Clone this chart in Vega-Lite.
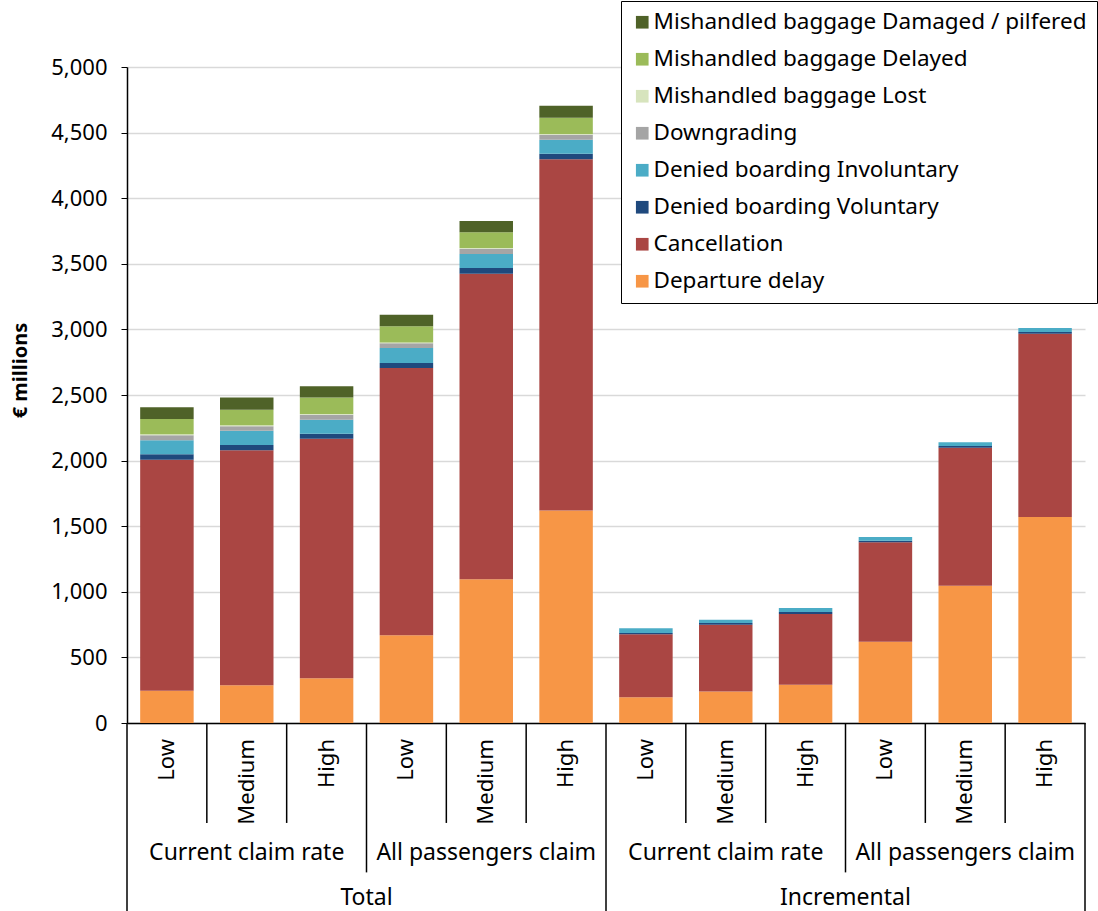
{
  "$schema": "https://vega.github.io/schema/vega-lite/v6.json",
  "padding": {"left": 10, "top": 0, "right": 0, "bottom": 0},
  "background": "white",
  "bounds": "flush",
  "spacing": 0,
  "config": {
    "font": "Noto Sans",
    "view": {"stroke": null},
    "concat": {"spacing": 0}
  },
  "datasets": {
    "bars": [
      {"bar": "T-CCR-Low", "type": "Departure delay", "value": 245},
      {"bar": "T-CCR-Low", "type": "Cancellation", "value": 1762},
      {"bar": "T-CCR-Low", "type": "Denied boarding Voluntary", "value": 41},
      {"bar": "T-CCR-Low", "type": "Denied boarding Involuntary", "value": 107},
      {"bar": "T-CCR-Low", "type": "Downgrading", "value": 38},
      {"bar": "T-CCR-Low", "type": "Mishandled baggage Lost", "value": 8},
      {"bar": "T-CCR-Low", "type": "Mishandled baggage Delayed", "value": 117},
      {"bar": "T-CCR-Low", "type": "Mishandled baggage Damaged / pilfered", "value": 89},
      {"bar": "T-CCR-Medium", "type": "Departure delay", "value": 288},
      {"bar": "T-CCR-Medium", "type": "Cancellation", "value": 1790},
      {"bar": "T-CCR-Medium", "type": "Denied boarding Voluntary", "value": 41},
      {"bar": "T-CCR-Medium", "type": "Denied boarding Involuntary", "value": 109},
      {"bar": "T-CCR-Medium", "type": "Downgrading", "value": 33},
      {"bar": "T-CCR-Medium", "type": "Mishandled baggage Lost", "value": 8},
      {"bar": "T-CCR-Medium", "type": "Mishandled baggage Delayed", "value": 119},
      {"bar": "T-CCR-Medium", "type": "Mishandled baggage Damaged / pilfered", "value": 92},
      {"bar": "T-CCR-High", "type": "Departure delay", "value": 342},
      {"bar": "T-CCR-High", "type": "Cancellation", "value": 1825},
      {"bar": "T-CCR-High", "type": "Denied boarding Voluntary", "value": 38},
      {"bar": "T-CCR-High", "type": "Denied boarding Involuntary", "value": 107},
      {"bar": "T-CCR-High", "type": "Downgrading", "value": 38},
      {"bar": "T-CCR-High", "type": "Mishandled baggage Lost", "value": 5},
      {"bar": "T-CCR-High", "type": "Mishandled baggage Delayed", "value": 125},
      {"bar": "T-CCR-High", "type": "Mishandled baggage Damaged / pilfered", "value": 86},
      {"bar": "T-APC-Low", "type": "Departure delay", "value": 668},
      {"bar": "T-APC-Low", "type": "Cancellation", "value": 2038},
      {"bar": "T-APC-Low", "type": "Denied boarding Voluntary", "value": 38},
      {"bar": "T-APC-Low", "type": "Denied boarding Involuntary", "value": 114},
      {"bar": "T-APC-Low", "type": "Downgrading", "value": 36},
      {"bar": "T-APC-Low", "type": "Mishandled baggage Lost", "value": 7},
      {"bar": "T-APC-Low", "type": "Mishandled baggage Delayed", "value": 123},
      {"bar": "T-APC-Low", "type": "Mishandled baggage Damaged / pilfered", "value": 88},
      {"bar": "T-APC-Medium", "type": "Departure delay", "value": 1096},
      {"bar": "T-APC-Medium", "type": "Cancellation", "value": 2329},
      {"bar": "T-APC-Medium", "type": "Denied boarding Voluntary", "value": 43},
      {"bar": "T-APC-Medium", "type": "Denied boarding Involuntary", "value": 107},
      {"bar": "T-APC-Medium", "type": "Downgrading", "value": 40},
      {"bar": "T-APC-Medium", "type": "Mishandled baggage Lost", "value": 5},
      {"bar": "T-APC-Medium", "type": "Mishandled baggage Delayed", "value": 120},
      {"bar": "T-APC-Medium", "type": "Mishandled baggage Damaged / pilfered", "value": 86},
      {"bar": "T-APC-High", "type": "Departure delay", "value": 1620},
      {"bar": "T-APC-High", "type": "Cancellation", "value": 2676},
      {"bar": "T-APC-High", "type": "Denied boarding Voluntary", "value": 43},
      {"bar": "T-APC-High", "type": "Denied boarding Involuntary", "value": 107},
      {"bar": "T-APC-High", "type": "Downgrading", "value": 38},
      {"bar": "T-APC-High", "type": "Mishandled baggage Lost", "value": 5},
      {"bar": "T-APC-High", "type": "Mishandled baggage Delayed", "value": 125},
      {"bar": "T-APC-High", "type": "Mishandled baggage Damaged / pilfered", "value": 91},
      {"bar": "I-CCR-Low", "type": "Departure delay", "value": 196},
      {"bar": "I-CCR-Low", "type": "Cancellation", "value": 480},
      {"bar": "I-CCR-Low", "type": "Denied boarding Voluntary", "value": 10},
      {"bar": "I-CCR-Low", "type": "Denied boarding Involuntary", "value": 36},
      {"bar": "I-CCR-Medium", "type": "Departure delay", "value": 241},
      {"bar": "I-CCR-Medium", "type": "Cancellation", "value": 508},
      {"bar": "I-CCR-Medium", "type": "Denied boarding Voluntary", "value": 13},
      {"bar": "I-CCR-Medium", "type": "Denied boarding Involuntary", "value": 25},
      {"bar": "I-CCR-High", "type": "Departure delay", "value": 292},
      {"bar": "I-CCR-High", "type": "Cancellation", "value": 539},
      {"bar": "I-CCR-High", "type": "Denied boarding Voluntary", "value": 15},
      {"bar": "I-CCR-High", "type": "Denied boarding Involuntary", "value": 30},
      {"bar": "I-APC-Low", "type": "Departure delay", "value": 620},
      {"bar": "I-APC-Low", "type": "Cancellation", "value": 757},
      {"bar": "I-APC-Low", "type": "Denied boarding Voluntary", "value": 13},
      {"bar": "I-APC-Low", "type": "Denied boarding Involuntary", "value": 28},
      {"bar": "I-APC-Medium", "type": "Departure delay", "value": 1047},
      {"bar": "I-APC-Medium", "type": "Cancellation", "value": 1051},
      {"bar": "I-APC-Medium", "type": "Denied boarding Voluntary", "value": 13},
      {"bar": "I-APC-Medium", "type": "Denied boarding Involuntary", "value": 28},
      {"bar": "I-APC-High", "type": "Departure delay", "value": 1570},
      {"bar": "I-APC-High", "type": "Cancellation", "value": 1397},
      {"bar": "I-APC-High", "type": "Denied boarding Voluntary", "value": 13},
      {"bar": "I-APC-High", "type": "Denied boarding Involuntary", "value": 31}
    ],
    "rates": [
      {"bar": "T-CCR-Low", "rate": "Low"},
      {"bar": "T-CCR-Medium", "rate": "Medium"},
      {"bar": "T-CCR-High", "rate": "High"},
      {"bar": "T-APC-Low", "rate": "Low"},
      {"bar": "T-APC-Medium", "rate": "Medium"},
      {"bar": "T-APC-High", "rate": "High"},
      {"bar": "I-CCR-Low", "rate": "Low"},
      {"bar": "I-CCR-Medium", "rate": "Medium"},
      {"bar": "I-CCR-High", "rate": "High"},
      {"bar": "I-APC-Low", "rate": "Low"},
      {"bar": "I-APC-Medium", "rate": "Medium"},
      {"bar": "I-APC-High", "rate": "High"}
    ],
    "scenarios": [
      {"bar": "T-CCR-Medium", "scenario": "Current claim rate"},
      {"bar": "T-APC-Medium", "scenario": "All passengers claim"},
      {"bar": "I-CCR-Medium", "scenario": "Current claim rate"},
      {"bar": "I-APC-Medium", "scenario": "All passengers claim"}
    ],
    "measures": [
      {"bar": "T-APC-Low", "measure": "Total"},
      {"bar": "I-APC-Low", "measure": "Incremental"}
    ],
    "seps": [
      {"bar": "T-CCR-Low", "depth": 3, "edge": "left"},
      {"bar": "T-CCR-Medium", "depth": 1, "edge": "left"},
      {"bar": "T-CCR-High", "depth": 1, "edge": "left"},
      {"bar": "T-APC-Low", "depth": 2, "edge": "left"},
      {"bar": "T-APC-Medium", "depth": 1, "edge": "left"},
      {"bar": "T-APC-High", "depth": 1, "edge": "left"},
      {"bar": "I-CCR-Low", "depth": 3, "edge": "left"},
      {"bar": "I-CCR-Medium", "depth": 1, "edge": "left"},
      {"bar": "I-CCR-High", "depth": 1, "edge": "left"},
      {"bar": "I-APC-Low", "depth": 2, "edge": "left"},
      {"bar": "I-APC-Medium", "depth": 1, "edge": "left"},
      {"bar": "I-APC-High", "depth": 1, "edge": "left"},
      {"bar": "I-APC-High", "depth": 3, "edge": "right"}
    ]
  },
  "vconcat": [
    {
      "width": 958,
      "height": 656,
      "data": {"name": "bars"},
      "transform": [
        {"calculate": "indexof(['Departure delay', 'Cancellation', 'Denied boarding Voluntary', 'Denied boarding Involuntary', 'Downgrading', 'Mishandled baggage Lost', 'Mishandled baggage Delayed', 'Mishandled baggage Damaged / pilfered'], datum.type)", "as": "stackRank"}
      ],
      "mark": {"type": "bar"},
      "encoding": {
        "x": {
          "field": "bar",
          "type": "nominal",
          "scale": {
            "domain": ["T-CCR-Low", "T-CCR-Medium", "T-CCR-High", "T-APC-Low", "T-APC-Medium", "T-APC-High", "I-CCR-Low", "I-CCR-Medium", "I-CCR-High", "I-APC-Low", "I-APC-Medium", "I-APC-High"],
            "paddingInner": 0.33,
            "paddingOuter": 0.165
          },
          "axis": {"labels": false, "ticks": false, "title": null, "domainColor": "black", "domainWidth": 1.5, "grid": false}
        },
        "y": {
          "field": "value",
          "type": "quantitative",
          "stack": "zero",
          "scale": {"domain": [0, 5000]},
          "axis": {
            "values": [0, 500, 1000, 1500, 2000, 2500, 3000, 3500, 4000, 4500, 5000],
            "format": ",.0f",
            "title": "€ millions",
            "titleFontWeight": "bold",
            "titleFontSize": 20,
            "titleColor": "black",
            "titleAngle": 270,
            "titleAlign": "center",
            "titleBaseline": "middle",
            "titleX": -107,
            "titleY": 303,
            "labelFontSize": 22,
            "labelColor": "black",
            "labelPadding": 14,
            "tickSize": 6,
            "tickColor": "black",
            "domainColor": "black",
            "domainWidth": 1.5,
            "gridColor": "#D9D9D9",
            "gridWidth": 1.5
          }
        },
        "order": {"field": "stackRank", "type": "quantitative", "sort": "ascending"},
        "color": {
          "field": "type",
          "type": "nominal",
          "scale": {
            "domain": ["Mishandled baggage Damaged / pilfered", "Mishandled baggage Delayed", "Mishandled baggage Lost", "Downgrading", "Denied boarding Involuntary", "Denied boarding Voluntary", "Cancellation", "Departure delay"],
            "range": ["#4F6228", "#9BBB59", "#D7E4BD", "#A5A5A5", "#4BACC6", "#1F497D", "#AA4643", "#F79646"]
          },
          "legend": {
            "title": null,
            "orient": "none",
            "legendX": 494,
            "legendY": -66,
            "strokeColor": "black",
            "fillColor": "white",
            "padding": 10,
            "symbolType": "square",
            "symbolSize": 160,
            "symbolStrokeWidth": 0,
            "labelFontSize": 22.5,
            "labelColor": "black",
            "labelLimit": 600,
            "labelOffset": 0,
            "rowPadding": 14
          }
        }
      }
    },
    {
      "width": 958,
      "height": 189,
      "layer": [
        {
          "data": {"name": "seps"},
          "transform": [{"filter": "datum.edge == 'left'"}],
          "mark": {"type": "rule", "color": "black", "strokeWidth": 1.5},
          "encoding": {
            "x": {
              "field": "bar",
              "type": "nominal",
              "bandPosition": 0,
              "scale": {
                "domain": ["T-CCR-Low", "T-CCR-Medium", "T-CCR-High", "T-APC-Low", "T-APC-Medium", "T-APC-High", "I-CCR-Low", "I-CCR-Medium", "I-CCR-High", "I-APC-Low", "I-APC-Medium", "I-APC-High"],
                "paddingInner": 0,
                "paddingOuter": 0
              },
              "axis": null
            },
            "y": {
              "field": "depth",
              "type": "quantitative",
              "scale": {"type": "pow", "exponent": 0.58, "domain": [0, 3], "range": [0, 189]},
              "axis": null
            },
            "y2": {"datum": 0}
          }
        },
        {
          "data": {"name": "seps"},
          "transform": [{"filter": "datum.edge == 'right'"}],
          "mark": {"type": "rule", "color": "black", "strokeWidth": 1.5},
          "encoding": {
            "x": {"field": "bar", "type": "nominal", "bandPosition": 1},
            "y": {"field": "depth", "type": "quantitative"},
            "y2": {"datum": 0}
          }
        },
        {
          "data": {"name": "rates"},
          "mark": {"type": "text", "angle": 270, "align": "right", "baseline": "middle", "dx": -16, "fontSize": 22, "color": "black"},
          "encoding": {
            "x": {"field": "bar", "type": "nominal"},
            "y": {"datum": 0, "type": "quantitative"},
            "text": {"field": "rate"}
          }
        },
        {
          "data": {"name": "scenarios"},
          "mark": {"type": "text", "align": "center", "baseline": "middle", "fontSize": 23, "color": "black"},
          "encoding": {
            "x": {"field": "bar", "type": "nominal"},
            "y": {"datum": 1.57, "type": "quantitative"},
            "text": {"field": "scenario"}
          }
        },
        {
          "data": {"name": "measures"},
          "mark": {"type": "text", "align": "center", "baseline": "middle", "fontSize": 23, "color": "black"},
          "encoding": {
            "x": {"field": "bar", "type": "nominal", "bandPosition": 0},
            "y": {"datum": 2.62, "type": "quantitative"},
            "text": {"field": "measure"}
          }
        }
      ]
    }
  ],
  "resolve": {"scale": {"x": "independent", "y": "independent"}}
}
